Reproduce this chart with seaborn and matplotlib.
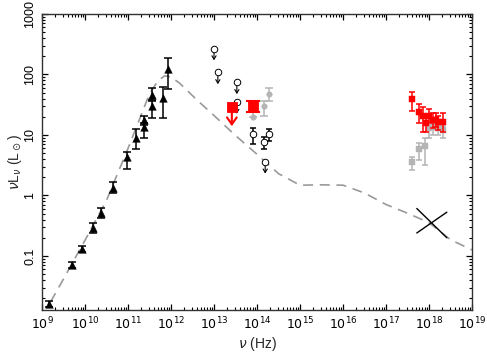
import matplotlib
matplotlib.use("Agg")
import numpy as np
import pandas as pd
import matplotlib.pyplot as plt
import seaborn as sns
from matplotlib.ticker import LogLocator, NullFormatter, FixedLocator

sns.set_style("ticks")
plt.rcParams['font.family'] = ['Liberation Sans', 'DejaVu Sans']
plt.rcParams['mathtext.fontset'] = 'dejavusans'

# ---------------- data ----------------
# model SED (dashed grey)
model_nu = [1.58e9, 3.16e9, 1e10, 3.16e10, 1e11, 3.16e11, 5e11, 7.1e11, 1e12, 1.58e12,
            4e12, 1e13, 3.16e13, 1e14, 3.16e14, 1e15, 3.16e15, 1e16, 3.16e16, 1e17,
            3.16e17, 1e18, 3.16e18, 1e19]
model_L = [0.0174, 0.0417, 0.182, 0.83, 6.0, 48, 79, 95, 91, 72,
           38, 21, 9.8, 4.8, 2.3, 1.48, 1.5, 1.48, 1.1, 0.71,
           0.51, 0.355, 0.186, 0.126]

# radio / mm detections (black triangles)
tri_nu = [1.45e9, 5.0e9, 8.5e9, 1.5e10, 2.4e10, 4.5e10, 9.5e10, 1.5e11, 2.3e11, 2.3e11,
          3.6e11, 3.6e11, 6.5e11, 8.5e11]
tri_L = [0.016, 0.071, 0.13, 0.29, 0.52, 1.35, 4.3, 9.0, 17.5, 13.5, 46, 30, 41, 125]
tri_lo = [0.0143, 0.063, 0.115, 0.24, 0.43, 1.1, 2.7, 5.9, 14.5, 8.9, 38, 19, 19, 57]
tri_hi = [0.018, 0.080, 0.146, 0.35, 0.63, 1.65, 5.3, 12.5, 20.5, 16, 59, 36, 63, 190]

# IR upper limits (open circles + arrows)
ul_nu = [1.0e13, 1.23e13, 3.4e13, 3.4e13, 1.55e14]
ul_L = [268, 108, 74, 35, 3.6]

# IR detections (open circles with error bars)
oc_nu = [8.1e13, 1.45e14, 1.9e14]
oc_L = [10.4, 7.7, 10.4]
oc_lo = [7.1, 5.9, 7.9]
oc_hi = [13.0, 9.3, 12.5]

# grey IR points
gc_nu = [8.1e13, 1.45e14, 1.9e14]
gc_L = [20, 30, 47]
gc_lo = [20, 21, 37]
gc_hi = [30, 37, 59]

# red IR points (first is an upper limit)
rs_nu = [2.6e13, 8.1e13]
rs_L = [29, 30]
rs_lo = [29, 24]
rs_hi = [29, 36]
rs_limit_to = 14

# X-ray red squares
xr_nu = [4.1e17, 5.96e17, 7.1e17, 8.4e17, 1.02e18, 1.22e18, 1.46e18, 1.65e18, 2.08e18]
xr_L = [39, 24, 21, 16, 20.5, 17.6, 18, 16.3, 16.3]
xr_lo = [25, 16, 11, 11.2, 15.7, 13, 13.5, 12, 11.2]
xr_hi = [52, 32, 29, 19, 27, 23, 23.5, 21, 23]

# X-ray grey squares
xg_nu = [4.1e17, 5.96e17, 8.1e17, 1.02e18, 1.22e18, 1.65e18, 2.08e18]
xg_L = [3.6, 5.9, 6.6, 13, 13.5, 13, 12]
xg_lo = [2.6, 3.9, 3.2, 8.9, 10, 10, 9]
xg_hi = [4.3, 7.4, 8.9, 14.5, 15.5, 15, 14]

# X-ray bow tie
bt_nu = [5.2e17, 2.6e18]
bt_L1 = [0.61, 0.20]
bt_L2 = [0.24, 0.53]

xticks = [1e9, 1e10, 1e11, 1e12, 1e13, 1e14, 1e15, 1e16, 1e17, 1e18, 1e19]
xticklabels = [r'$10^{9}$', r'$10^{10}$', r'$10^{11}$', r'$10^{12}$', r'$10^{13}$',
               r'$10^{14}$', r'$10^{15}$', r'$10^{16}$', r'$10^{17}$', r'$10^{18}$', r'$10^{19}$']
yticks = [0.1, 1, 10, 100, 1000]
yticklabels = ['0.1', '1', '10', '100', '1000']

# ---------------- plot ----------------
fig = plt.figure(figsize=(4.87, 3.59), dpi=100)
ax = fig.add_axes([42 / 487, 1 - 310 / 359, 430 / 487, 296 / 359])
ax.set_xscale('log')
ax.set_yscale('log')
ax.set_xlim(1e9, 1e19)
ax.set_ylim(0.0128, 1000)

GREY = '#9a9a9a'
LGREY = '#b4b4b4'
RED = '#ff0000'

def asym(v, lo, hi):
    v = np.asarray(v, float)
    return np.vstack([v - np.asarray(lo, float), np.asarray(hi, float) - v])

# model
sns.lineplot(x=model_nu, y=model_L, ax=ax, color=GREY, lw=1.2, sort=False,
             dashes=False, zorder=1)
ax.lines[-1].set_dashes([6, 4])

# bow tie
sns.lineplot(x=bt_nu, y=bt_L1, ax=ax, color='black', lw=1.0, zorder=2)
sns.lineplot(x=bt_nu, y=bt_L2, ax=ax, color='black', lw=1.0, zorder=2)

# triangles
ax.errorbar(tri_nu, tri_L, yerr=asym(tri_L, tri_lo, tri_hi), fmt='none',
            ecolor='black', elinewidth=1.1, capsize=3.2, capthick=1.1, zorder=3)
sns.scatterplot(x=tri_nu, y=tri_L, ax=ax, marker='^', s=30, color='black',
                edgecolor='black', linewidth=0.3, zorder=4)

# upper limits (open circles)
for x, y in zip(ul_nu, ul_L):
    ax.annotate('', xy=(x, y * 0.64), xytext=(x, y),
                arrowprops=dict(arrowstyle='->,head_length=0.25,head_width=0.15',
                                color='black', lw=0.8, shrinkA=0, shrinkB=0), zorder=3)
sns.scatterplot(x=ul_nu, y=ul_L, ax=ax, marker='o', s=22, facecolor='white',
                edgecolor='black', linewidth=0.7, zorder=5)

# grey IR
ax.errorbar(gc_nu, gc_L, yerr=asym(gc_L, gc_lo, gc_hi), fmt='none',
            ecolor=LGREY, elinewidth=1.1, capsize=3, capthick=1.1, zorder=2)
sns.scatterplot(x=gc_nu, y=gc_L, ax=ax, marker='o', s=16, color=LGREY,
                edgecolor=LGREY, zorder=3)

# open circles with errors
ax.errorbar(oc_nu, oc_L, yerr=asym(oc_L, oc_lo, oc_hi), fmt='none',
            ecolor='black', elinewidth=1.1, capsize=2.5, capthick=1.1, zorder=3)
sns.scatterplot(x=oc_nu, y=oc_L, ax=ax, marker='o', s=22, facecolor='white',
                edgecolor='black', linewidth=0.7, zorder=5)

# red IR points
ax.errorbar(rs_nu[1:], rs_L[1:], yerr=asym(rs_L[1:], rs_lo[1:], rs_hi[1:]), fmt='none',
            ecolor=RED, elinewidth=1.5, capsize=5, capthick=1.5, zorder=4)
ax.annotate('', xy=(rs_nu[0], rs_limit_to), xytext=(rs_nu[0], rs_L[0]),
            arrowprops=dict(arrowstyle='->,head_length=0.5,head_width=0.35',
                            color=RED, lw=1.5, shrinkA=0, shrinkB=0), zorder=4)
sns.scatterplot(x=rs_nu, y=rs_L, ax=ax, marker='s', s=55, color=RED,
                edgecolor=RED, zorder=6)

# X-ray grey
ax.errorbar(xg_nu, xg_L, yerr=asym(xg_L, xg_lo, xg_hi), fmt='none',
            ecolor=LGREY, elinewidth=1.1, capsize=2.5, capthick=1.1, zorder=2)
sns.scatterplot(x=xg_nu, y=xg_L, ax=ax, marker='s', s=14, color=LGREY,
                edgecolor=LGREY, zorder=3)

# X-ray red
ax.errorbar(xr_nu, xr_L, yerr=asym(xr_L, xr_lo, xr_hi), fmt='none',
            ecolor=RED, elinewidth=1.1, capsize=2.5, capthick=1.1, zorder=4)
sns.scatterplot(x=xr_nu, y=xr_L, ax=ax, marker='s', s=16, color=RED,
                edgecolor=RED, zorder=5)

# axes styling
ax.xaxis.set_major_locator(FixedLocator(xticks))
ax.set_xticklabels(xticklabels)
ax.xaxis.set_minor_locator(LogLocator(base=10, subs=np.arange(2, 10), numticks=50))
ax.xaxis.set_minor_formatter(NullFormatter())
ax.yaxis.set_major_locator(FixedLocator(yticks))
ax.set_yticklabels(yticklabels)
ax.yaxis.set_minor_locator(LogLocator(base=10, subs=np.arange(2, 10), numticks=50))
ax.yaxis.set_minor_formatter(NullFormatter())

ax.tick_params(which='both', direction='in', top=True, right=True, colors='black',
               labelsize=9)
ax.tick_params(which='major', length=4.5, width=0.9)
ax.tick_params(which='minor', length=2.5, width=0.8)
ax.tick_params(axis='y', which='major', labelrotation=90, pad=4)
ax.tick_params(axis='x', which='major', pad=4)
for lab in ax.get_yticklabels():
    lab.set_va('center')
for s in ax.spines.values():
    s.set_color('#333333')
    s.set_linewidth(1.0)

ax.set_xlabel(r'$\nu$ (Hz)', fontsize=10)
ax.set_ylabel(r'$\nu$L$_\nu$ (L$_\odot$)', fontsize=10)
ax.xaxis.set_label_coords(0.5, -0.115)
ax.yaxis.set_label_coords(-0.063, 0.5)
ax.xaxis.label.set_va('center')
ax.yaxis.label.set_va('center')
if ax.get_legend():
    ax.get_legend().remove()

fig.savefig('out.png', dpi=100)
